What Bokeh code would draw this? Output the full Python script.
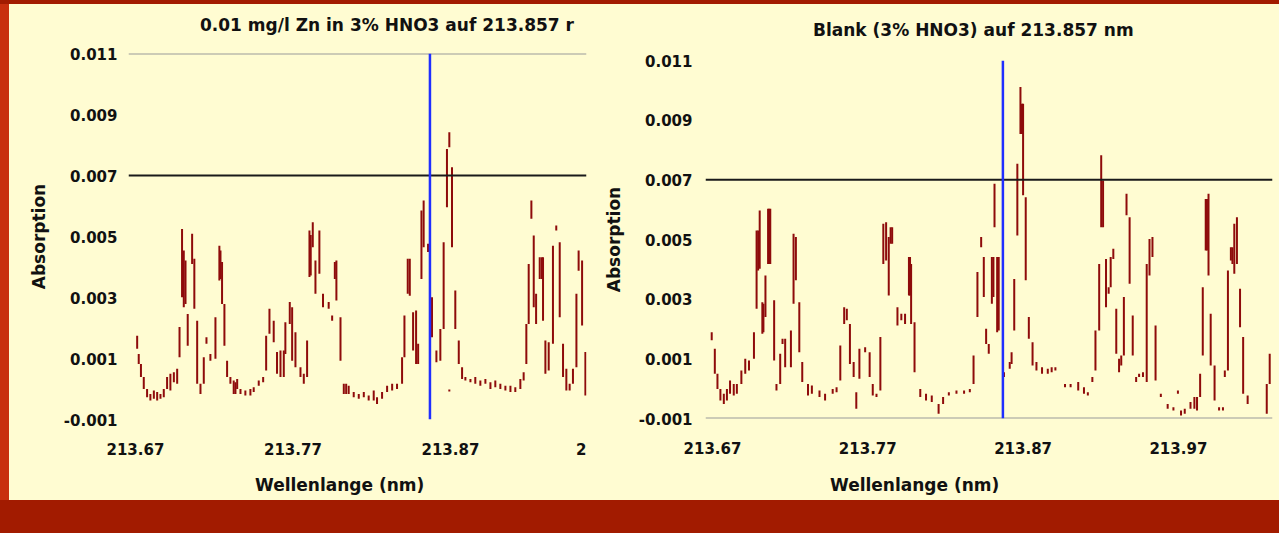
from bokeh.plotting import figure
from bokeh.models import Range1d, FixedTicker, Span, Spacer, ColumnDataSource, Div
from bokeh.layouts import row, column
from bokeh.embed import file_html
from bokeh.resources import INLINE

# ---------------- data ----------------
Y_TICKS = [-0.001, 0.001, 0.003, 0.005, 0.007, 0.009, 0.011]
Y_LABELS = {-0.001: "-0.001", 0.001: "0.001", 0.003: "0.003", 0.005: "0.005",
            0.007: "0.007", 0.009: "0.009", 0.011: "0.011"}
LEFT_X_TICKS = [213.67, 213.77, 213.87, 213.953]
LEFT_X_LABELS = {213.67: "213.67", 213.77: "213.77", 213.87: "213.87", 213.953: "2"}
RIGHT_X_TICKS = [213.67, 213.77, 213.87, 213.97]
RIGHT_X_LABELS = {213.67: "213.67", 213.77: "213.77", 213.87: "213.87", 213.97: "213.97"}
LINE_WL = 213.857
THRESHOLD = 0.007

LEFT_TITLE = "0.01 mg/l Zn in 3% HNO3 auf 213.857 r"
RIGHT_TITLE = "Blank (3% HNO3) auf 213.857 nm"
X_LABEL = "Wellenlange (nm)"
Y_LABEL = "Absorption"

# left spectrum (0.01 mg/l Zn): wavelength, lower and upper absorbance of each trace stroke
L_WL = [213.6711, 213.6721, 213.6735, 213.6753, 213.6774, 213.6795, 213.6817, 213.6838, 213.6859, 213.6880,
        213.6901, 213.6922, 213.6944, 213.6965, 213.6980, 213.6996, 213.7007, 213.7018, 213.7032, 213.7060,
        213.7074, 213.7092, 213.7113, 213.7134, 213.7151, 213.7176, 213.7208, 213.7233, 213.7240, 213.7250,
        213.7265, 213.7282, 213.7303, 213.7324, 213.7335, 213.7346, 213.7367, 213.7398, 213.7430, 213.7451,
        213.7483, 213.7511, 213.7530, 213.7551, 213.7578, 213.7599, 213.7621, 213.7642, 213.7652, 213.7680,
        213.7695, 213.7716, 213.7748, 213.7769, 213.7790, 213.7805, 213.7813, 213.7826, 213.7843, 213.7868,
        213.7891, 213.7927, 213.7949, 213.7966, 213.7976, 213.8002, 213.8023, 213.8038, 213.8054, 213.8086,
        213.8118, 213.8150, 213.8181, 213.8213, 213.8234, 213.8266, 213.8298, 213.8330, 213.8361, 213.8393,
        213.8408, 213.8429, 213.8442, 213.8463, 213.8482, 213.8495, 213.8516, 213.8530, 213.8558, 213.8583,
        213.8611, 213.8636, 213.8657, 213.8678, 213.8693, 213.8693, 213.8710, 213.8731, 213.8753, 213.8774,
        213.8795, 213.8827, 213.8858, 213.8890, 213.8922, 213.8954, 213.8985, 213.9017, 213.9049, 213.9081,
        213.9112, 213.9144, 213.9165, 213.9182, 213.9197, 213.9214, 213.9229, 213.9244, 213.9267, 213.9280,
        213.9288, 213.9303, 213.9324, 213.9351, 213.9372, 213.9394, 213.9415, 213.9436, 213.9457, 213.9478,
        213.9500, 213.9514, 213.9536, 213.9557]
L_LO = [0.00132, 0.00082, 0.00039, 0.00000, -0.00027, -0.00038, -0.00032, -0.00038, -0.00032, -0.00027,
        0.00000, -0.00005, 0.00022, 0.00017, 0.00104, 0.00301, 0.00268, 0.00279, 0.00142, 0.00410,
        0.00263, 0.00017, -0.00016, 0.00017, 0.00148, 0.00093, 0.00099, 0.00356, 0.00361, 0.00279,
        0.00142, 0.00039, 0.00017, -0.00016, -0.00016, 0.00000, -0.00016, -0.00021, -0.00021, -0.00010,
        0.00011, 0.00022, 0.00061, 0.00181, 0.00153, 0.00050, 0.00039, 0.00039, 0.00115, 0.00213,
        0.00093, 0.00071, 0.00039, 0.00017, 0.00039, 0.00367, 0.00372, 0.00465, 0.00312, 0.00378,
        0.00268, 0.00263, 0.00224, 0.00361, 0.00290, 0.00093, -0.00016, -0.00016, -0.00016, -0.00027,
        -0.00032, -0.00027, -0.00038, -0.00038, -0.00049, -0.00032, -0.00010, -0.00005, 0.00000, 0.00017,
        0.00104, 0.00312, 0.00306, 0.00126, 0.00082, 0.00082, 0.00361, 0.00465, 0.00449, 0.00170,
        0.00088, 0.00093, 0.00197, 0.00596, 0.00793, -0.00008, 0.00465, 0.00197, 0.00082, 0.00033,
        0.00028, 0.00022, 0.00017, 0.00011, 0.00017, 0.00000, 0.00006, 0.00000, -0.00005, -0.00010,
        -0.00010, 0.00000, 0.00028, 0.00082, 0.00213, 0.00558, 0.00268, 0.00213, 0.00361, 0.00361,
        0.00224, 0.00050, 0.00061, 0.00148, 0.00520, 0.00235, 0.00039, -0.00005, -0.00005, 0.00017,
        0.00071, 0.00388, 0.00208, -0.00021]
L_HI = [0.00175, 0.00115, 0.00082, 0.00039, 0.00000, -0.00016, -0.00005, -0.00010, -0.00016, 0.00000,
        0.00039, 0.00050, 0.00055, 0.00066, 0.00203, 0.00525, 0.00454, 0.00421, 0.00246, 0.00509,
        0.00427, 0.00224, 0.00017, 0.00104, 0.00170, 0.00115, 0.00235, 0.00470, 0.00454, 0.00416,
        0.00279, 0.00093, 0.00039, 0.00028, 0.00022, 0.00033, 0.00000, -0.00005, 0.00000, 0.00006,
        0.00028, 0.00039, 0.00175, 0.00263, 0.00224, 0.00121, 0.00126, 0.00126, 0.00219, 0.00285,
        0.00268, 0.00186, 0.00071, 0.00050, 0.00159, 0.00520, 0.00505, 0.00547, 0.00421, 0.00520,
        0.00312, 0.00285, 0.00241, 0.00416, 0.00421, 0.00235, 0.00017, 0.00017, 0.00011, -0.00010,
        -0.00016, -0.00010, -0.00021, -0.00005, -0.00027, -0.00010, 0.00011, 0.00017, 0.00017, 0.00104,
        0.00241, 0.00427, 0.00427, 0.00252, 0.00257, 0.00148, 0.00585, 0.00618, 0.00476, 0.00301,
        0.00126, 0.00197, 0.00481, 0.00787, 0.00842, -0.00002, 0.00727, 0.00323, 0.00159, 0.00071,
        0.00039, 0.00033, 0.00039, 0.00028, 0.00033, 0.00022, 0.00028, 0.00017, 0.00011, 0.00011,
        0.00006, 0.00033, 0.00055, 0.00213, 0.00410, 0.00618, 0.00503, 0.00312, 0.00432, 0.00432,
        0.00432, 0.00159, 0.00153, 0.00470, 0.00536, 0.00481, 0.00148, 0.00066, 0.00017, 0.00066,
        0.00312, 0.00454, 0.00421, 0.00121]

# right spectrum (blank)
R_WL = [213.6695, 213.6715, 213.6732, 213.6751, 213.6773, 213.6793, 213.6813, 213.6837, 213.6857, 213.6886,
        213.6911, 213.6935, 213.6967, 213.6984, 213.6994, 213.7004, 213.7021, 213.7028, 213.7041, 213.7058,
        213.7065, 213.7072, 213.7097, 213.7112, 213.7136, 213.7151, 213.7168, 213.7205, 213.7222, 213.7237,
        213.7259, 213.7278, 213.7315, 213.7340, 213.7389, 213.7425, 213.7474, 213.7499, 213.7523, 213.7548,
        213.7565, 213.7585, 213.7609, 213.7626, 213.7646, 213.7683, 213.7712, 213.7732, 213.7756, 213.7781,
        213.7800, 213.7818, 213.7835, 213.7847, 213.7857, 213.7891, 213.7916, 213.7940, 213.7965, 213.7972,
        213.7979, 213.8001, 213.8038, 213.8075, 213.8112, 213.8156, 213.8185, 213.8222, 213.8271, 213.8320,
        213.8357, 213.8381, 213.8406, 213.8430, 213.8447, 213.8462, 213.8479, 213.8499, 213.8509, 213.8516,
        213.8533, 213.8543, 213.8577, 213.8614, 213.8626, 213.8643, 213.8663, 213.8683, 213.8693, 213.8700,
        213.8717, 213.8737, 213.8761, 213.8786, 213.8822, 213.8859, 213.8884, 213.8908, 213.8970, 213.9006,
        213.9055, 213.9092, 213.9117, 213.9146, 213.9166, 213.9190, 213.9203, 213.9215, 213.9234, 213.9251,
        213.9264, 213.9281, 213.9300, 213.9318, 213.9332, 213.9349, 213.9366, 213.9386, 213.9406, 213.9428,
        213.9447, 213.9472, 213.9496, 213.9514, 213.9533, 213.9553, 213.9587, 213.9631, 213.9668, 213.9697,
        213.9717, 213.9741, 213.9778, 213.9803, 213.9820, 213.9840, 213.9857, 213.9876, 213.9884, 213.9894,
        213.9908, 213.9933, 213.9962, 213.9987, 213.9999, 214.0019, 214.0038, 214.0048, 214.0060, 214.0077,
        214.0097, 214.0117, 214.0146, 214.0269, 214.0288]
R_LO = [0.00162, 0.00050, -0.00001, -0.00040, -0.00051, -0.00040, -0.00017, -0.00023, -0.00017, 0.00016,
        0.00050, 0.00061, 0.00100, 0.00268, 0.00396, 0.00402, 0.00184, 0.00189, 0.00240, 0.00418,
        0.00418, 0.00418, 0.00094, -0.00006, 0.00016, 0.00150, 0.00072, 0.00072, 0.00285, 0.00363,
        0.00122, 0.00022, -0.00023, -0.00017, -0.00028, -0.00040, -0.00017, -0.00012, 0.00027, 0.00217,
        0.00229, 0.00083, 0.00039, -0.00067, 0.00033, 0.00122, 0.00039, -0.00023, -0.00028, -0.00006,
        0.00418, 0.00430, 0.00312, 0.00486, 0.00486, 0.00212, 0.00229, 0.00217, 0.00312, 0.00312,
        0.00217, 0.00055, -0.00028, -0.00040, -0.00045, -0.00084, -0.00051, -0.00023, -0.00017, -0.00017,
        -0.00012, 0.00016, 0.00240, 0.00474, 0.00307, 0.00150, 0.00117, 0.00285, 0.00307, 0.00541,
        0.00189, 0.00195, 0.00039, 0.00067, 0.00083, 0.00195, 0.00513, 0.00854, 0.00854, 0.00648,
        0.00363, 0.00167, 0.00078, 0.00061, 0.00050, 0.00050, 0.00055, 0.00061, 0.00005, 0.00005,
        -0.00006, -0.00017, -0.00023, 0.00022, 0.00061, 0.00195, 0.00541, 0.00541, 0.00273, 0.00318,
        0.00340, 0.00435, 0.00117, 0.00055, 0.00078, 0.00111, 0.00581, 0.00352, 0.00111, 0.00022,
        0.00039, 0.00039, 0.00022, 0.00379, 0.00441, 0.00027, -0.00028, -0.00067, -0.00073, -0.00017,
        -0.00090, -0.00084, -0.00067, -0.00067, -0.00073, -0.00028, 0.00111, 0.00463, 0.00463, 0.00379,
        0.00078, -0.00040, -0.00073, -0.00073, 0.00039, 0.00061, 0.00430, 0.00418, 0.00385, 0.00418,
        0.00206, -0.00017, -0.00051, -0.00084, 0.00016]
R_HI = [0.00189, 0.00134, 0.00050, -0.00001, -0.00017, -0.00001, 0.00027, 0.00016, 0.00016, 0.00061,
        0.00100, 0.00094, 0.00189, 0.00530, 0.00530, 0.00597, 0.00290, 0.00285, 0.00379, 0.00603,
        0.00603, 0.00603, 0.00296, 0.00016, 0.00117, 0.00167, 0.00167, 0.00195, 0.00519, 0.00508,
        0.00290, 0.00089, 0.00016, 0.00011, -0.00006, -0.00017, -0.00001, 0.00005, 0.00145, 0.00273,
        0.00268, 0.00217, 0.00089, -0.00012, 0.00134, 0.00139, 0.00122, 0.00016, -0.00017, 0.00173,
        0.00553, 0.00558, 0.00508, 0.00541, 0.00541, 0.00273, 0.00251, 0.00251, 0.00441, 0.00441,
        0.00418, 0.00223, -0.00001, -0.00017, -0.00023, -0.00051, -0.00028, -0.00012, -0.00006, -0.00006,
        -0.00001, 0.00111, 0.00391, 0.00508, 0.00441, 0.00201, 0.00150, 0.00441, 0.00441, 0.00687,
        0.00441, 0.00441, 0.00055, 0.00089, 0.00122, 0.00368, 0.00754, 0.01011, 0.00955, 0.00955,
        0.00642, 0.00240, 0.00156, 0.00089, 0.00072, 0.00067, 0.00072, 0.00072, 0.00016, 0.00016,
        0.00022, 0.00005, -0.00012, 0.00039, 0.00195, 0.00418, 0.00782, 0.00698, 0.00435, 0.00340,
        0.00441, 0.00469, 0.00268, 0.00100, 0.00111, 0.00307, 0.00653, 0.00575, 0.00245, 0.00039,
        0.00050, 0.00055, 0.00418, 0.00502, 0.00508, 0.00212, -0.00017, -0.00051, -0.00062, -0.00006,
        -0.00073, -0.00067, -0.00045, -0.00028, -0.00028, 0.00050, 0.00340, 0.00636, 0.00636, 0.00653,
        0.00251, 0.00078, -0.00062, -0.00062, 0.00061, 0.00396, 0.00474, 0.00474, 0.00553, 0.00575,
        0.00335, 0.00173, -0.00023, 0.00016, 0.00117]

# ---------------- style ----------------
CREAM = "#FFFCD2"
BORDER_RED = "#A21B00"
LEFT_RED = "#C8300E"
TRACE = "#8E0B0B"
FONT = "DejaVu Sans"
INK = "#111111"


def text_div(text, width, height, pad_left, pad_top):
    html = ('<div style="padding-left:%dpx;padding-top:%dpx;font-family:\'DejaVu Sans\';'
            'font-size:17px;font-weight:bold;line-height:20px;color:%s;white-space:nowrap;">%s</div>'
            % (pad_left, pad_top, INK, text))
    return Div(text=html, width=width, height=height, margin=0,
               styles={"background-color": CREAM, "overflow": "hidden"})


def make_panel(width, height, x_range, bl, br, bt, bb, ytick_standoff,
               xticks, xlabels, wl, lo, hi, top_line, bottom_line):
    p = figure(width=width, height=height, x_range=x_range, y_range=Range1d(-0.001, 0.011),
               output_backend="svg", toolbar_location=None, title=None,
               min_border_left=bl, min_border_right=br, min_border_top=bt, min_border_bottom=bb)
    p.background_fill_color = CREAM
    p.border_fill_color = CREAM
    p.outline_line_color = None
    p.grid.visible = False

    xa = p.xaxis[0]
    xa.ticker = FixedTicker(ticks=xticks)
    xa.major_label_overrides = xlabels
    xa.axis_line_color = None
    xa.major_tick_line_color = None
    xa.minor_tick_line_color = None
    xa.major_tick_out = 0
    xa.major_tick_in = 0
    xa.major_label_standoff = 23
    xa.major_label_text_font = FONT
    xa.major_label_text_font_size = "15px"
    xa.major_label_text_font_style = "bold"
    xa.major_label_text_color = INK

    ya = p.yaxis[0]
    ya.ticker = FixedTicker(ticks=Y_TICKS)
    ya.major_label_overrides = Y_LABELS
    ya.axis_line_color = None
    ya.major_tick_line_color = None
    ya.minor_tick_line_color = None
    ya.major_tick_out = 0
    ya.major_tick_in = 0
    ya.major_label_standoff = ytick_standoff
    ya.major_label_text_font = FONT
    ya.major_label_text_font_size = "15px"
    ya.major_label_text_font_style = "bold"
    ya.major_label_text_color = INK
    ya.axis_label = Y_LABEL
    ya.axis_label_standoff = 12
    ya.axis_label_text_font = FONT
    ya.axis_label_text_font_size = "17px"
    ya.axis_label_text_font_style = "bold"
    ya.axis_label_text_color = INK

    if top_line:
        p.add_layout(Span(location=0.011, dimension="width", line_color="#9a9a9a", line_width=2))
    if bottom_line:
        p.add_layout(Span(location=-0.001, dimension="width", line_color="#9a9a9a", line_width=2))
    p.add_layout(Span(location=THRESHOLD, dimension="width", line_color="#1a1a1a", line_width=2))

    src = ColumnDataSource(dict(wl=wl, lo=lo, hi=hi))
    p.segment(x0="wl", y0="lo", x1="wl", y1="hi", source=src,
              line_color=TRACE, line_width=2)

    p.add_layout(Span(location=LINE_WL, dimension="height", line_color="#1f2fff", line_width=2.5))
    return p


left = make_panel(579, 424, Range1d(213.6656, 213.9564), 119, 2, 12, 46, 11,
                  LEFT_X_TICKS, LEFT_X_LABELS, L_WL, L_LO, L_HI, True, False)
right = make_panel(691, 421, Range1d(213.6655, 214.0306), 117, 7, 16, 47, 13,
                   RIGHT_X_TICKS, RIGHT_X_LABELS, R_WL, R_LO, R_HI, False, True)

left_col = column(text_div(LEFT_TITLE, 579, 37, 191, 11), left,
                  text_div(X_LABEL, 579, 35, 246, 10))
right_col = column(text_div(RIGHT_TITLE, 691, 40, 225, 16), right,
                   text_div(X_LABEL, 691, 35, 242, 10))

top = Spacer(width=1279, height=4, styles={"background-color": BORDER_RED})
side = Spacer(width=9, height=496, styles={"background-color": LEFT_RED})
bottom = Spacer(width=1279, height=33, styles={"background-color": BORDER_RED})

layout = column(top,
                row(side, left_col, right_col, styles={"background-color": CREAM}),
                bottom)

open("out.html", "w").write(file_html(layout, INLINE))
